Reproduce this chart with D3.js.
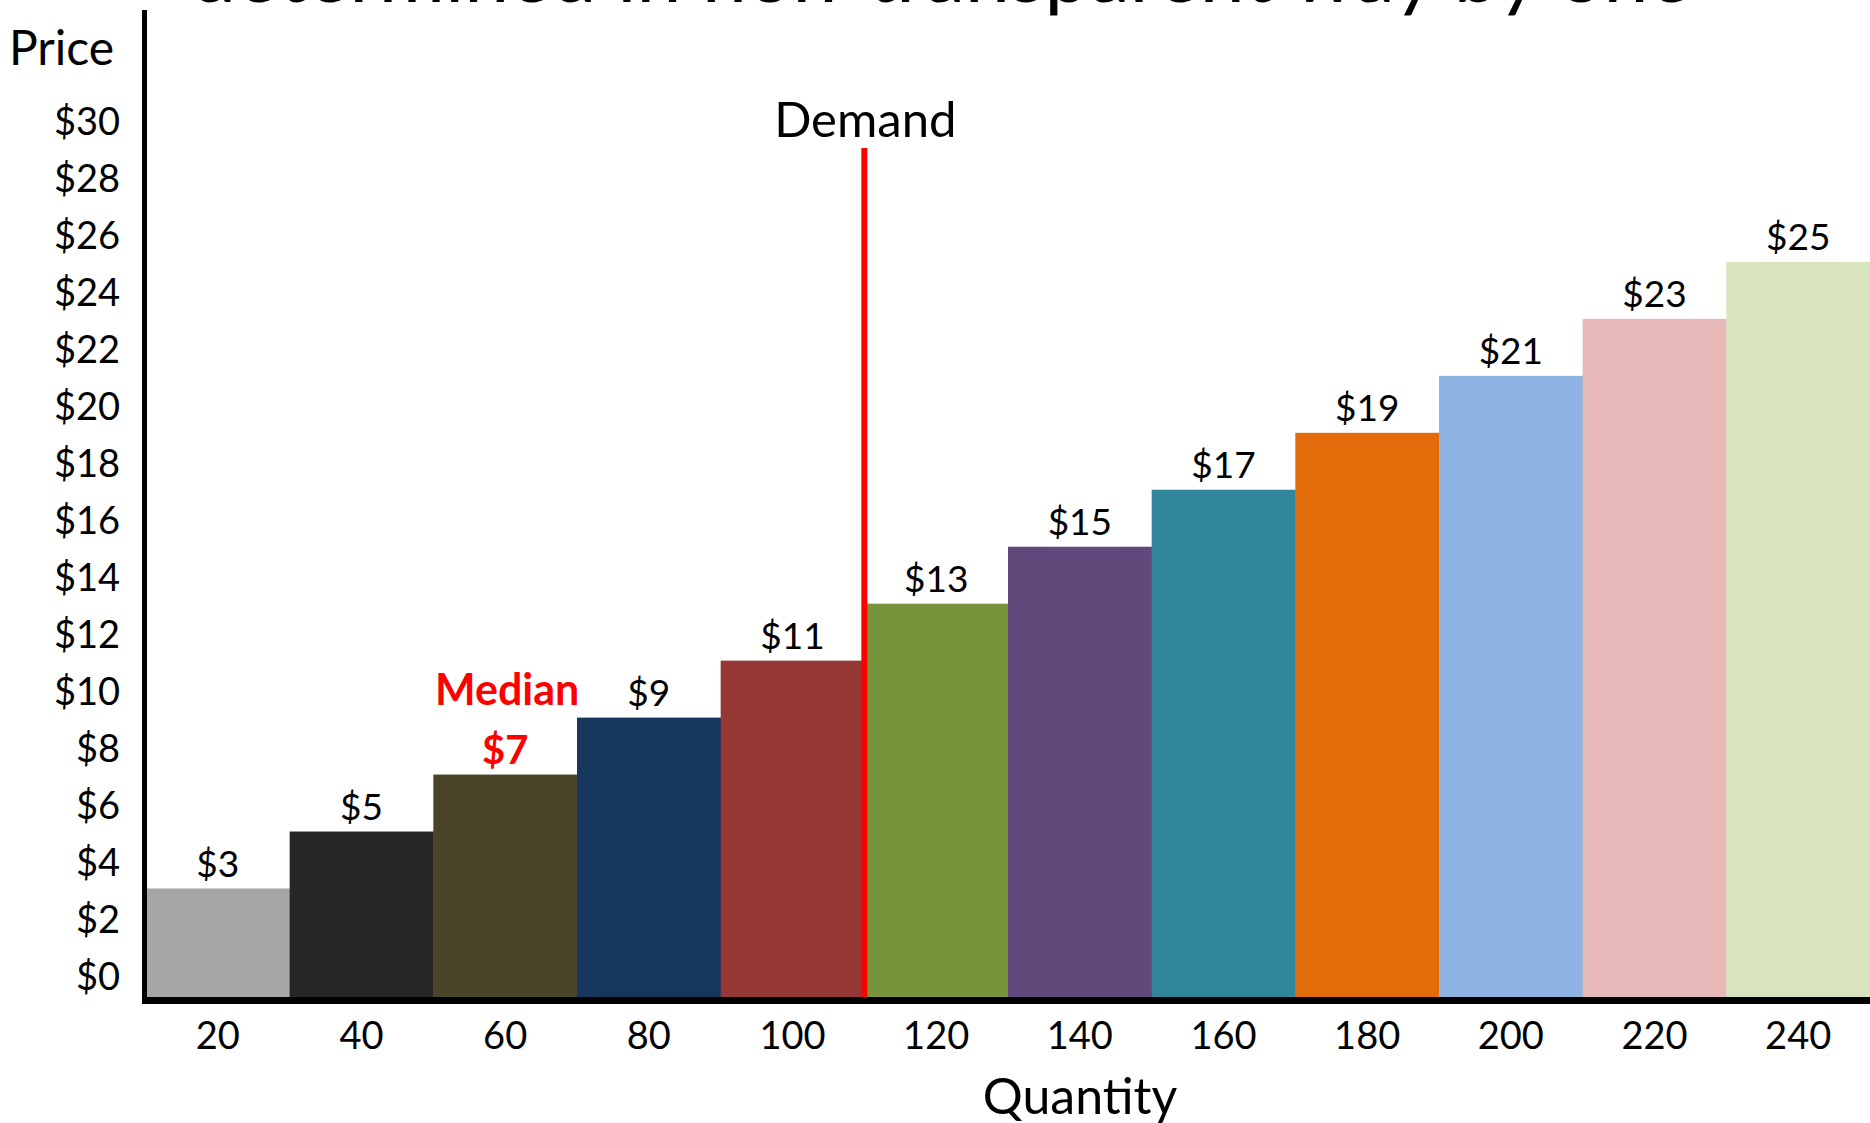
<!DOCTYPE html>
<html>
<head>
<meta charset="utf-8">
<script src="https://cdn.jsdelivr.net/npm/d3@7"></script>
<style>
  body { margin: 0; background: #fff; }
  svg { display: block; font-family: Lato, "Open Sans", sans-serif; }
</style>
</head>
<body>
<div id="chart"></div>
<script>
// data
var quantities = [20, 40, 60, 80, 100, 120, 140, 160, 180, 200, 220, 240];
var prices = [3, 5, 7, 9, 11, 13, 15, 17, 19, 21, 23, 25];
var barColors = ["#a6a6a6", "#262626", "#4a4529", "#17375e", "#953735", "#77933c",
                 "#604a7b", "#31869b", "#e36c0a", "#8eb4e3", "#e6b9b8", "#d7e4bd"];
var priceTicks = [0, 2, 4, 6, 8, 10, 12, 14, 16, 18, 20, 22, 24, 26, 28, 30];
var demandQty = 110;
var medianIndex = 2;
var titleText = "determined in non-transparent way by one";

var width = 1870, height = 1123;

var svg = d3.select("#chart").append("svg")
    .attr("width", width)
    .attr("height", height);

//x runs from the left edge of the first step to the right edge of the last
var x = d3.scaleLinear().domain([10, 250]).range([146, 1870]);
//the bars sit on the axis line, a little under the $0 tick
var y = d3.scaleLinear().domain([-0.81, 30]).range([997, 119.5]);
var base = y.domain()[0];

// title, mostly cut off at the top
svg.append("text")
    .attr("x", 191).attr("y", 2)
    .attr("textLength", 1500)
    .attr("lengthAdjust", "spacingAndGlyphs")
    .style("font-size", "76px")
    .text(titleText);

// bars
svg.selectAll("rect.bar")
  .data(prices)
  .enter().append("rect")
    .attr("class", "bar")
    .attr("x", function(d, i) { return x(quantities[i] - 10); })
    .attr("width", function(d, i) { return x(quantities[i] + 10) - x(quantities[i] - 10) + 0.5; })
    .attr("y", function(d) { return y(d); })
    .attr("height", function(d) { return y(base) - y(d); })
    .attr("fill", function(d, i) { return barColors[i]; });

// value labels
svg.selectAll("text.val")
  .data(prices)
  .enter().append("text")
    .attr("class", "val")
    .attr("x", function(d, i) { return x(quantities[i]); })
    .attr("y", function(d) { return y(d) - 25; })
    .attr("dy", "0.36em")
    .attr("text-anchor", "middle")
    .style("font-size", function(d, i) { return i == medianIndex ? "40px" : "37px"; })
    .style("font-weight", function(d, i) { return i == medianIndex ? "bold" : "normal"; })
    .attr("fill", function(d, i) { return i == medianIndex ? "#ff0000" : "#000"; })
    .text(function(d) { return "$" + d; });

// "Median" is clipped to its own column
svg.append("clipPath").attr("id", "medClip")
  .append("rect")
    .attr("x", x(quantities[medianIndex] - 10))
    .attr("width", x(quantities[medianIndex] + 10) - x(quantities[medianIndex] - 10))
    .attr("y", 0).attr("height", height);

svg.append("text")
    .attr("clip-path", "url(#medClip)")
    .attr("x", x(quantities[medianIndex]) + 2)
    .attr("y", y(prices[medianIndex]) - 85)
    .attr("dy", "0.36em")
    .attr("text-anchor", "middle")
    .style("font-size", "43px")
    .style("font-weight", "bold")
    .attr("fill", "#ff0000")
    .text("Median");

// demand line
svg.append("line")
    .attr("x1", x(demandQty)).attr("x2", x(demandQty))
    .attr("y1", 148).attr("y2", y(base))
    .attr("stroke", "#ff0000")
    .attr("stroke-width", 6);

svg.append("text")
    .attr("x", x(demandQty) + 1)
    .attr("y", 119)
    .attr("dy", "0.36em")
    .attr("text-anchor", "middle")
    .style("font-size", "49px")
    .text("Demand");

// y axis labels
svg.selectAll("text.ytick")
  .data(priceTicks)
  .enter().append("text")
    .attr("class", "ytick")
    .attr("x", 120)
    .attr("y", function(d) { return y(d) + 2; })
    .attr("dy", "0.36em")
    .attr("text-anchor", "end")
    .style("font-size", "38px")
    .text(function(d) { return "$" + d; });

// x axis labels
svg.selectAll("text.xtick")
  .data(quantities)
  .enter().append("text")
    .attr("class", "xtick")
    .attr("x", function(d) { return x(d); })
    .attr("y", 1035)
    .attr("dy", "0.36em")
    .attr("text-anchor", "middle")
    .style("font-size", "38px")
    .text(function(d) { return d; });

// axis lines
svg.append("line")
    .attr("x1", 144.5).attr("x2", 144.5)
    .attr("y1", 10).attr("y2", y(base) + 7)
    .attr("stroke", "#000").attr("stroke-width", 5);

svg.append("line")
    .attr("x1", 142).attr("x2", width)
    .attr("y1", y(base) + 3.5).attr("y2", y(base) + 3.5)
    .attr("stroke", "#000").attr("stroke-width", 7);

// axis titles
svg.append("text")
    .attr("x", 9).attr("y", 48)
    .attr("dy", "0.36em")
    .style("font-size", "48px")
    .text("Price");

svg.append("text")
    .attr("x", 1080).attr("y", 1096)
    .attr("dy", "0.36em")
    .attr("text-anchor", "middle")
    .style("font-size", "50px")
    .text("Quantity");
</script>
</body>
</html>
